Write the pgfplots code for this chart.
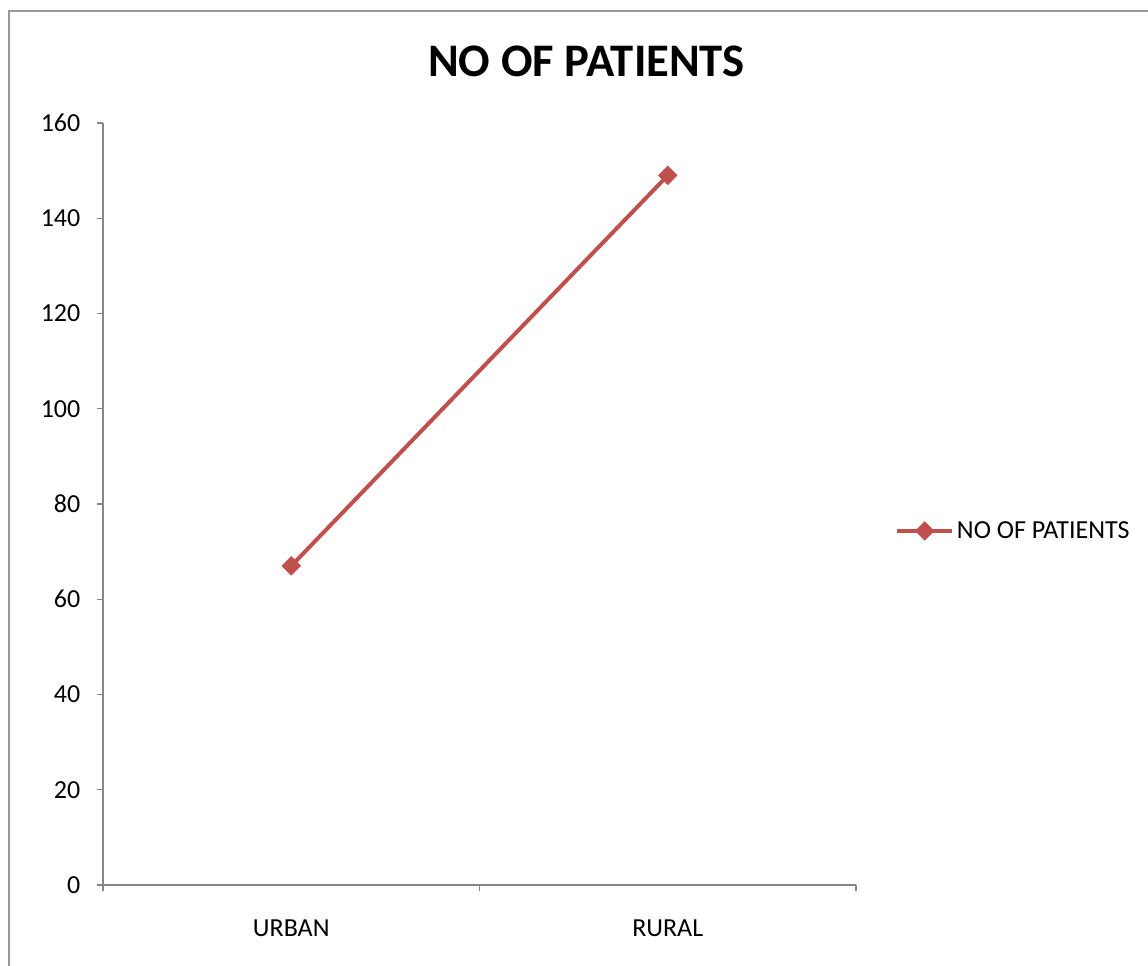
\documentclass[border=0pt]{standalone}
\usepackage{pgfplots}
\pgfplotsset{compat=1.18}
\usepackage{fontspec}
\setmainfont{Carlito}
\definecolor{excelred}{HTML}{C0504D}
\definecolor{axisgray}{HTML}{868686}
\definecolor{framegray}{HTML}{9A9A9A}
\begin{document}
\begin{tikzpicture}
\useasboundingbox[fill=white] (0pt,0pt) rectangle (861pt,723.75pt);
\begin{scope}
\clip (0pt,0pt) rectangle (861pt,723.75pt);
\draw[framegray, line width=1.5pt] (7pt,-10pt) -- (7pt,715.5pt) -- (880pt,715.5pt);
\end{scope}
\node[anchor=base, font=\bfseries\fontsize{35}{40}\selectfont] at (439.9pt,666pt) {NO OF PATIENTS};
\begin{axis}[
  at={(77.25pt,60pt)}, anchor=origin,
  scale only axis, width=564.75pt, height=571.5pt,
  xmin=0, xmax=2, ymin=0, ymax=160,
  axis x line=bottom, axis y line=left,
  axis line style={-, axisgray, line width=1pt},
  tick style={axisgray, line width=1pt},
  tick align=outside,
  major tick length=4.5pt,
  ytick={0,20,...,160},
  xtick={0,1,2}, xticklabels={},
  extra x ticks={0.5,1.5}, extra x tick labels={URBAN,RURAL},
  extra x tick style={major x tick style={draw=none}, xticklabel style={yshift=-18pt}},
  every tick label/.append style={font=\fontsize{19.5}{22}\selectfont, text=black},
  yticklabel style={xshift=-9pt},
  /pgf/number format/assume math mode=true,
  legend style={at={(1.0518,0.4646)}, anchor=west, draw=none, fill=none,
    font=\fontsize{19.5}{22}\selectfont, inner sep=0pt, cells={anchor=west},
    /tikz/every even column/.append style={column sep=0pt}},
  legend image code/.code={\draw[#1, mark repeat=2, mark phase=2] plot coordinates {(0pt,0pt) (20.6pt,0pt) (41.25pt,0pt)};},
]
\addplot[excelred, line width=3pt, mark=square*, mark size=4.9pt,
  mark options={rotate=45, solid, line width=0.5pt, fill=excelred}]
  coordinates {(0.5,67) (1.5,149)};
\addlegendentry{NO OF PATIENTS}
\end{axis}
\end{tikzpicture}
\end{document}
